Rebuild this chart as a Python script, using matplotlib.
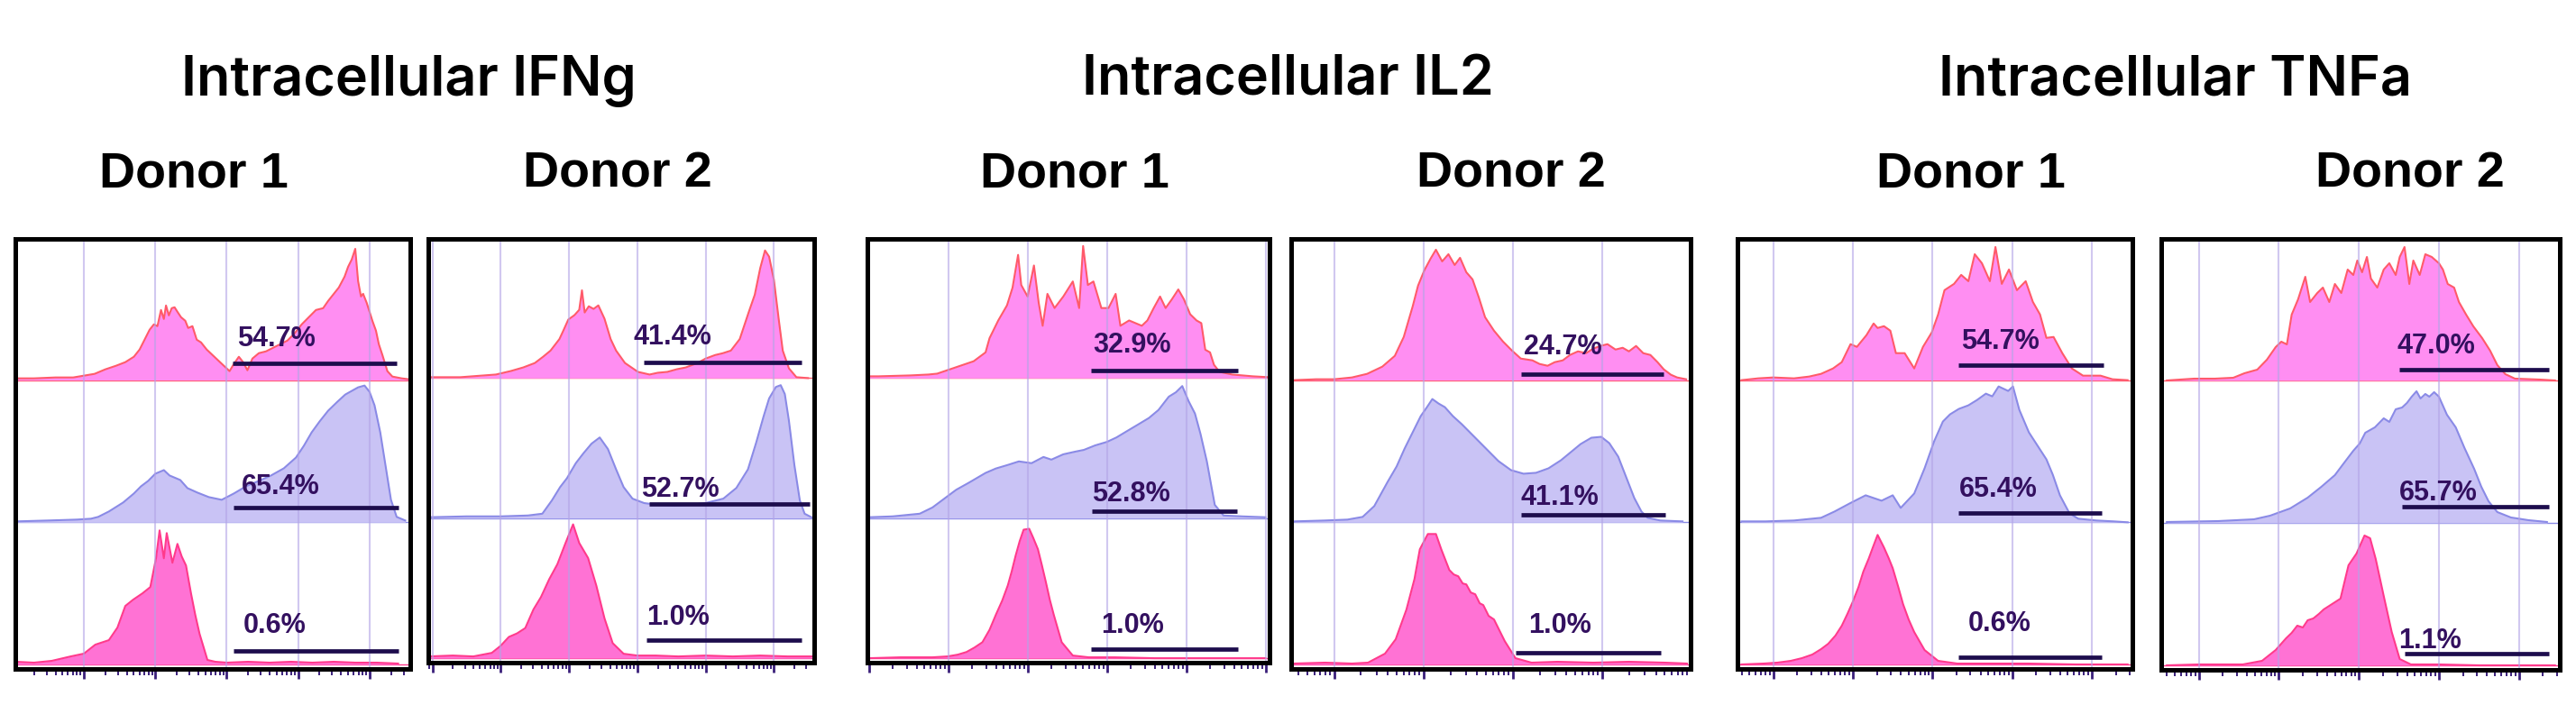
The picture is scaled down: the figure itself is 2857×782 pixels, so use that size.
"""
Intracellular cytokine staining histograms (IFNg / IL2 / TNFa, two donors).
"""

import numpy as np
import matplotlib
matplotlib.use("Agg")
import matplotlib.pyplot as plt

# ---------------------------------------------------------------------------
# Data: x in log-decades of fluorescence, y in event counts (arbitrary units)
# top = pink stimulated, mid = lavender, bot = control
# ---------------------------------------------------------------------------
cytokines = ["IFNg", "IL2", "TNFa"]
donors = ["Donor 1", "Donor 2"]

# IFNg, donor 1
ifng_d1_top_x = [0.05, 0.3, 0.6, 0.85, 1.0, 1.15, 1.3, 1.45, 1.58, 1.7, 1.78, 1.85, 1.92, 1.98, 2.03,
                 2.08, 2.12, 2.15, 2.19, 2.23, 2.27, 2.31, 2.36, 2.42, 2.46, 2.52, 2.58, 2.64, 2.72, 2.8,
                 2.88, 2.96, 3.04, 3.1, 3.17, 3.23, 3.29, 3.36, 3.45, 3.55, 3.65, 3.75, 3.85, 3.95, 4.05,
                 4.15, 4.25, 4.35, 4.42, 4.5, 4.57, 4.65, 4.7, 4.75, 4.8, 4.84, 4.88, 4.91, 4.96, 5.04,
                 5.09, 5.13, 5.18, 5.25, 5.32, 5.45, 5.55]
ifng_d1_top_y = [2, 2, 3, 3, 5, 7, 12, 16, 20, 26, 34, 45, 56, 62, 60, 78, 68, 83, 72, 80, 81, 76, 70, 66,
                 58, 60, 45, 42, 34, 28, 22, 16, 10, 18, 26, 20, 11, 24, 30, 32, 36, 40, 44, 52, 62, 70,
                 78, 80, 88, 96, 103, 115, 126, 134, 146, 110, 93, 96, 86, 66, 55, 40, 28, 10, 4, 2, 1]
ifng_d1_mid_x = [0.05, 0.5, 0.9, 1.1, 1.2, 1.35, 1.55, 1.7, 1.8, 1.9, 2.0, 2.12, 2.2, 2.35, 2.45, 2.59,
                 2.75, 2.93, 3.1, 3.27, 3.45, 3.62, 3.8, 3.97, 4.08, 4.19, 4.3, 4.42, 4.55, 4.66, 4.75,
                 4.84, 4.93, 5.0, 5.07, 5.15, 5.23, 5.3, 5.38, 5.5]
ifng_d1_mid_y = [1, 2, 3, 4, 6, 12, 22, 32, 40, 46, 54, 58, 52, 47, 38, 33, 28, 25, 32, 40, 46, 52, 60,
                 72, 85, 100, 112, 124, 134, 142, 146, 150, 152, 145, 130, 100, 60, 25, 6, 2]
ifng_d1_bot_x = [0.05, 0.3, 0.55, 0.82, 1.0, 1.16, 1.35, 1.47, 1.58, 1.69, 1.82, 1.93, 2.01, 2.06, 2.12,
                 2.16, 2.24, 2.31, 2.37, 2.43, 2.5, 2.56, 2.62, 2.73, 2.84, 3.0, 3.3, 3.6, 3.9, 4.2, 4.5,
                 4.8, 5.1, 5.4]
ifng_d1_bot_y = [3, 2, 4, 9, 12, 22, 27, 41, 65, 72, 79, 86, 118, 149, 118, 146, 113, 134, 120, 110, 79,
                 55, 34, 5, 3, 2, 3, 2, 3, 2, 3, 2, 2, 1]
ifng_d1_pct = ["54.7%", "65.4%", "0.6%"]

# IFNg, donor 2
ifng_d2_top_x = [-0.05, 0.41, 0.93, 1.15, 1.33, 1.5, 1.62, 1.73, 1.86, 1.92, 1.99, 2.08, 2.15, 2.19, 2.23,
                 2.29, 2.36, 2.43, 2.52, 2.61, 2.69, 2.82, 3.01, 3.18, 3.3, 3.44, 3.58, 3.71, 3.88, 4.0,
                 4.14, 4.25, 4.37, 4.5, 4.63, 4.72, 4.8, 4.87, 4.93, 5.0, 5.07, 5.13, 5.22, 5.33, 5.5]
ifng_d2_top_y = [1, 1, 4, 8, 12, 17, 24, 31, 44, 54, 66, 71, 77, 99, 74, 81, 78, 82, 67, 44, 31, 17, 7, 4,
                 6, 7, 10, 12, 17, 22, 26, 28, 31, 44, 74, 94, 124, 144, 137, 111, 67, 31, 11, 1, 0]
ifng_d2_mid_x = [-0.05, 0.5, 1.0, 1.4, 1.61, 1.75, 1.87, 1.97, 2.1, 2.21, 2.33, 2.45, 2.57, 2.69, 2.8,
                 2.93, 3.1, 3.3, 3.55, 3.77, 4.0, 4.26, 4.45, 4.62, 4.74, 4.85, 4.93, 5.03, 5.1, 5.16,
                 5.22, 5.3, 5.38, 5.45, 5.55]
ifng_d2_mid_y = [1, 2, 2, 3, 5, 20, 35, 45, 62, 73, 84, 91, 78, 55, 35, 22, 17, 15, 14, 15, 17, 22, 34,
                 55, 85, 115, 135, 148, 150, 140, 110, 60, 20, 5, 1]
ifng_d2_bot_x = [-0.05, 0.3, 0.6, 0.87, 1.0, 1.12, 1.24, 1.36, 1.48, 1.59, 1.71, 1.83, 1.95, 2.06, 2.15,
                 2.28, 2.4, 2.52, 2.64, 2.8, 3.0, 3.27, 3.6, 4.0, 4.4, 4.8, 5.2, 5.55]
ifng_d2_bot_y = [2, 3, 2, 6, 14, 24, 28, 34, 55, 69, 89, 106, 130, 151, 130, 113, 82, 45, 17, 5, 3, 3, 2,
                 3, 2, 3, 2, 2]
ifng_d2_pct = ["41.4%", "52.7%", "1.0%"]

# IL2, donor 1
il2_d1_top_x = [0.0, 0.12, 0.52, 0.75, 0.86, 1.09, 1.32, 1.47, 1.52, 1.63, 1.74, 1.81, 1.88, 1.92, 2.0,
                2.08, 2.14, 2.19, 2.25, 2.34, 2.45, 2.57, 2.65, 2.7, 2.76, 2.83, 2.93, 3.02, 3.11, 3.17,
                3.28, 3.44, 3.51, 3.59, 3.67, 3.74, 3.82, 3.9, 3.97, 4.05, 4.13, 4.19, 4.24, 4.3, 4.35,
                4.42, 4.58, 4.84, 5.04]
il2_d1_top_y = [2, 2, 3, 4, 5, 12, 19, 29, 45, 65, 82, 102, 139, 105, 92, 127, 85, 59, 95, 79, 92, 109,
                79, 149, 105, 109, 79, 79, 95, 59, 65, 59, 65, 79, 92, 79, 89, 100, 89, 72, 65, 62, 32,
                29, 15, 7, 4, 2, 1]
il2_d1_mid_x = [0.0, 0.3, 0.64, 0.8, 0.95, 1.1, 1.26, 1.47, 1.6, 1.75, 1.89, 2.05, 2.2, 2.3, 2.45, 2.6,
                2.71, 2.85, 3.0, 3.12, 3.25, 3.4, 3.53, 3.65, 3.78, 3.87, 3.95, 4.03, 4.11, 4.18, 4.26,
                4.36, 4.47, 4.7, 5.0]
il2_d1_mid_y = [1, 2, 5, 12, 22, 32, 40, 51, 56, 60, 64, 62, 69, 66, 72, 75, 77, 82, 86, 91, 98, 106,
                113, 122, 137, 142, 149, 132, 118, 95, 64, 15, 3, 2, 1]
il2_d1_bot_x = [0.0, 0.4, 0.8, 0.99, 1.12, 1.23, 1.33, 1.43, 1.52, 1.6, 1.68, 1.75, 1.8, 1.85, 1.9, 1.95,
                2.02, 2.07, 2.13, 2.18, 2.23, 2.28, 2.33, 2.43, 2.57, 2.77, 3.1, 3.6, 4.2, 5.0]
il2_d1_bot_y = [0, 1, 1, 2, 4, 7, 12, 18, 32, 49, 65, 82, 98, 116, 132, 145, 146, 136, 123, 105, 86, 66,
                49, 18, 3, 1, 1, 0, 0, 0]
il2_d1_pct = ["32.9%", "52.8%", "1.0%"]

# IL2, donor 2
il2_d2_top_x = [0.55, 0.8, 1.0, 1.2, 1.37, 1.54, 1.68, 1.78, 1.88, 1.94, 2.01, 2.08, 2.14, 2.21, 2.28,
                2.35, 2.41, 2.48, 2.55, 2.62, 2.69, 2.79, 2.89, 2.99, 3.09, 3.22, 3.3, 3.39, 3.47, 3.56,
                3.64, 3.73, 3.82, 3.9, 3.98, 4.06, 4.15, 4.23, 4.3, 4.38, 4.46, 4.54, 4.62, 4.69, 4.77,
                4.84, 4.94]
il2_d2_top_y = [0, 1, 1, 3, 7, 15, 27, 48, 82, 105, 122, 135, 145, 132, 140, 128, 136, 120, 112, 92, 70,
                55, 43, 33, 24, 22, 18, 16, 20, 22, 28, 32, 30, 35, 38, 40, 34, 36, 32, 38, 30, 28, 20,
                12, 6, 3, 1]
il2_d2_mid_x = [0.55, 0.9, 1.15, 1.32, 1.45, 1.6, 1.7, 1.79, 1.88, 1.97, 2.04, 2.1, 2.17, 2.24, 2.33,
                2.43, 2.56, 2.7, 2.84, 2.98, 3.12, 3.26, 3.4, 3.54, 3.65, 3.76, 3.88, 3.99, 4.08, 4.18,
                4.27, 4.36, 4.44, 4.51, 4.65, 4.9]
il2_d2_mid_y = [1, 2, 3, 6, 18, 45, 62, 82, 100, 118, 128, 137, 132, 128, 118, 109, 96, 82, 68, 58, 54,
                55, 60, 69, 78, 87, 94, 95, 88, 73, 50, 27, 12, 5, 2, 1]
il2_d2_bot_x = [0.55, 0.9, 1.2, 1.38, 1.57, 1.69, 1.81, 1.9, 1.96, 2.05, 2.14, 2.2, 2.29, 2.34, 2.39,
                2.44, 2.48, 2.53, 2.58, 2.63, 2.67, 2.73, 2.79, 2.85, 2.91, 3.03, 3.21, 3.5, 3.9, 4.3,
                4.7, 4.95]
il2_d2_bot_y = [1, 2, 1, 2, 12, 28, 61, 95, 128, 145, 145, 128, 105, 100, 98, 90, 89, 80, 78, 68, 66,
                54, 50, 38, 26, 7, 2, 3, 2, 3, 2, 1]
il2_d2_pct = ["24.7%", "41.1%", "1.0%"]

# TNFa, donor 1
tnfa_d1_top_x = [0.6, 0.81, 1.0, 1.26, 1.45, 1.6, 1.75, 1.86, 1.97, 2.05, 2.17, 2.26, 2.31, 2.39, 2.47,
                 2.54, 2.65, 2.77, 2.88, 2.99, 3.07, 3.15, 3.27, 3.36, 3.45, 3.53, 3.62, 3.72, 3.79, 3.87,
                 3.96, 4.06, 4.17, 4.26, 4.35, 4.43, 4.52, 4.63, 4.75, 4.89, 5.11, 5.26, 5.45]
tnfa_d1_top_y = [0, 2, 3, 2, 4, 7, 13, 20, 40, 37, 50, 63, 58, 60, 55, 30, 30, 13, 37, 53, 73, 100, 107,
                 117, 110, 140, 130, 110, 148, 107, 123, 100, 110, 87, 73, 47, 48, 30, 13, 5, 5, 1, 0]
tnfa_d1_mid_x = [0.6, 0.9, 1.26, 1.6, 1.77, 1.96, 2.16, 2.36, 2.5, 2.6, 2.77, 2.9, 3.02, 3.13, 3.22,
                 3.33, 3.45, 3.56, 3.67, 3.75, 3.83, 3.95, 4.01, 4.09, 4.21, 4.32, 4.43, 4.51, 4.6, 4.72,
                 4.83, 5.06, 5.28, 5.45]
tnfa_d1_mid_y = [1, 1, 2, 5, 12, 21, 30, 24, 30, 16, 32, 60, 90, 112, 120, 126, 130, 136, 143, 140, 151,
                 146, 151, 125, 100, 85, 70, 53, 30, 10, 4, 2, 1, 0]
tnfa_d1_bot_x = [0.6, 0.88, 1.05, 1.22, 1.36, 1.49, 1.6, 1.69, 1.78, 1.86, 1.93, 2.0, 2.07, 2.13, 2.2,
                 2.25, 2.31, 2.39, 2.45, 2.5, 2.57, 2.63, 2.7, 2.77, 2.9, 3.07, 3.31, 3.7, 4.2, 4.8, 5.45]
tnfa_d1_bot_y = [0, 1, 2, 4, 7, 11, 17, 23, 32, 43, 56, 70, 86, 103, 118, 130, 144, 130, 118, 107, 86,
                 67, 50, 36, 16, 4, 1, 1, 1, 0, 0]
tnfa_d1_pct = ["54.7%", "65.4%", "0.6%"]

# TNFa, donor 2
tnfa_d2_top_x = [0.6, 0.94, 1.2, 1.43, 1.57, 1.73, 1.85, 1.96, 2.03, 2.1, 2.16, 2.24, 2.33, 2.39, 2.48,
                 2.55, 2.63, 2.7, 2.78, 2.86, 2.93, 2.98, 3.04, 3.1, 3.15, 3.23, 3.31, 3.38, 3.46, 3.51,
                 3.57, 3.63, 3.68, 3.76, 3.83, 3.91, 4.0, 4.05, 4.11, 4.19, 4.25, 4.34, 4.43, 4.54, 4.64,
                 4.73, 4.83, 4.95, 5.26, 5.45]
tnfa_d2_top_y = [0, 2, 2, 3, 8, 12, 23, 37, 43, 40, 73, 90, 115, 87, 97, 103, 87, 107, 97, 123, 117, 133,
                 120, 137, 113, 103, 123, 130, 117, 137, 148, 107, 133, 117, 140, 137, 130, 123, 107, 103,
                 87, 73, 60, 47, 33, 17, 7, 2, 1, 0]
tnfa_d2_mid_x = [0.6, 1.24, 1.69, 1.89, 2.14, 2.36, 2.53, 2.7, 2.81, 2.93, 3.01, 3.08, 3.2, 3.31, 3.38,
                 3.46, 3.54, 3.6, 3.66, 3.72, 3.77, 3.83, 3.88, 3.94, 4.0, 4.1, 4.21, 4.32, 4.44, 4.53,
                 4.62, 4.73, 4.9, 5.12, 5.35]
tnfa_d2_mid_y = [1, 2, 4, 8, 16, 28, 40, 53, 66, 80, 88, 100, 106, 116, 112, 126, 128, 133, 140, 146, 138,
                 143, 140, 145, 140, 120, 106, 83, 60, 40, 24, 12, 6, 3, 1]
tnfa_d2_bot_x = [0.6, 1.0, 1.3, 1.55, 1.79, 1.96, 2.09, 2.16, 2.23, 2.3, 2.36, 2.43, 2.5, 2.56, 2.63,
                 2.7, 2.77, 2.87, 2.97, 3.07, 3.14, 3.21, 3.31, 3.41, 3.51, 3.65, 4.0, 4.5, 5.0, 5.45]
tnfa_d2_bot_y = [0, 1, 1, 1, 5, 17, 30, 36, 44, 42, 50, 52, 57, 62, 66, 70, 74, 111, 124, 144, 141, 118,
                 77, 37, 7, 1, 1, 0, 0, 0]
tnfa_d2_pct = ["47.0%", "65.7%", "1.1%"]

# gate ranges (decades) per panel and row: (start, end)
ifng_d1_gates = [(3.08, 5.38), (3.10, 5.40), (3.10, 5.40)]
ifng_d2_gates = [(3.09, 5.40), (3.18, 5.53), (3.14, 5.40)]
il2_d1_gates = [(2.80, 4.65), (2.81, 4.64), (2.80, 4.65)]
il2_d2_gates = [(3.09, 4.69), (3.09, 4.71), (3.03, 4.66)]
tnfa_d1_gates = [(3.33, 5.15), (3.33, 5.13), (3.33, 5.13)]
tnfa_d2_gates = [(3.51, 5.37), (3.54, 5.37), (3.57, 5.37)]

# ---------------------------------------------------------------------------
# Layout (pixels of the 2857 x 782 canvas) and styles
# ---------------------------------------------------------------------------
W, H = 2857, 782
ROW_BASE = [316, 158, 0]           # baseline of top / mid / bottom histogram
ROW_Z = [5, 3, 2]                  # top row is drawn over the middle one
YLIM = (-5, 473)

PANEL_BOX = [(17, 265, 455, 742), (475, 265, 903, 735),
             (962, 265, 1408, 735), (1432, 265, 1875, 742),
             (1927, 265, 2365, 742), (2397, 265, 2839, 743)]
PANEL_XLIM = [(0.04, 5.57), (-0.06, 5.59), (-0.02, 5.05),
              (0.52, 4.99), (0.55, 5.51), (0.53, 5.51)]
# (bar height, label x, label height) for each row
GATE_STYLE = [
    [(19, 3.15, 46), (16, 3.21, 39), (15, 3.23, 43)],
    [(18, 2.94, 46), (16, 3.06, 32), (20, 3.14, 46)],
    [(9, 2.82, 37), (8, 2.81, 27), (10, 2.93, 37)],
    [(7, 3.12, 37), (8, 3.09, 27), (13, 3.18, 43)],
    [(17, 3.36, 43), (10, 3.33, 36), (8, 3.45, 45)],
    [(12, 3.48, 38), (18, 3.50, 33), (13, 3.50, 27)],
]

ROW_FILL = ["#ff8ef2", "#c9c3f5", "#ff72d4"]
ROW_EDGE = ["#ff5a6a", "#8a8ae6", "#ff3a8c"]
GRID_COLOR = "#b3a4e6"
GATE_COLOR = "#1d0d4d"
LABEL_COLOR = "#33105f"

TITLE_X = [453, 1428, 2412]
TITLE_Y = 106
DONOR_X = [215, 685, 1192, 1676, 2186, 2673]
DONOR_Y = 207


def _panel_series():
    """Collect the per-panel series in drawing order."""
    return [
        ([(ifng_d1_top_x, ifng_d1_top_y), (ifng_d1_mid_x, ifng_d1_mid_y), (ifng_d1_bot_x, ifng_d1_bot_y)],
         ifng_d1_pct, ifng_d1_gates),
        ([(ifng_d2_top_x, ifng_d2_top_y), (ifng_d2_mid_x, ifng_d2_mid_y), (ifng_d2_bot_x, ifng_d2_bot_y)],
         ifng_d2_pct, ifng_d2_gates),
        ([(il2_d1_top_x, il2_d1_top_y), (il2_d1_mid_x, il2_d1_mid_y), (il2_d1_bot_x, il2_d1_bot_y)],
         il2_d1_pct, il2_d1_gates),
        ([(il2_d2_top_x, il2_d2_top_y), (il2_d2_mid_x, il2_d2_mid_y), (il2_d2_bot_x, il2_d2_bot_y)],
         il2_d2_pct, il2_d2_gates),
        ([(tnfa_d1_top_x, tnfa_d1_top_y), (tnfa_d1_mid_x, tnfa_d1_mid_y), (tnfa_d1_bot_x, tnfa_d1_bot_y)],
         tnfa_d1_pct, tnfa_d1_gates),
        ([(tnfa_d2_top_x, tnfa_d2_top_y), (tnfa_d2_mid_x, tnfa_d2_mid_y), (tnfa_d2_bot_x, tnfa_d2_bot_y)],
         tnfa_d2_pct, tnfa_d2_gates),
    ]


def _add_axes(fig, box):
    left, top, right, bottom = box
    return fig.add_axes([left / W, 1 - bottom / H, (right - left) / W, (bottom - top) / H])


def _plot_panel(ax, series, pcts, gates, xlim, gate_style):
    """Three stacked histograms with gate bars and percentages."""
    x0, x1 = xlim

    for row, (xs, ys) in enumerate(series):
        base = ROW_BASE[row]
        xs = np.asarray(xs, dtype=float)
        ys = np.asarray(ys, dtype=float) + base
        z = ROW_Z[row]
        ax.hlines(base, x0, x1, color=ROW_EDGE[row], linewidth=1.0, zorder=z)
        ax.fill_between(xs, base, ys, color=ROW_FILL[row], linewidth=0, zorder=z)
        ax.plot(xs, ys, color=ROW_EDGE[row], linewidth=1.5, zorder=z + 0.1)

    # decade grid lines, drawn over the fills
    for d in range(int(np.ceil(x0)), int(np.floor(x1)) + 1):
        ax.axvline(d, color=GRID_COLOR, linewidth=1.5, alpha=0.6, zorder=6)

    for row in range(3):
        base = ROW_BASE[row]
        g0, g1 = gates[row]
        bar_h, lab_x, lab_h = gate_style[row]
        ax.hlines(base + bar_h, g0, g1, color=GATE_COLOR, linewidth=3.4, zorder=7)
        ax.text(lab_x, base + lab_h, pcts[row], ha="left", va="center",
                fontsize=22, fontweight="bold", color=LABEL_COLOR,
                family=["Liberation Sans", "DejaVu Sans"], zorder=8)

    ax.set_xlim(x0, x1)
    ax.set_ylim(*YLIM)
    ax.set_facecolor("white")

    majors = [d for d in range(-1, 7) if x0 <= d <= x1]
    minors = [d + np.log10(k) for d in range(-1, 6) for k in range(2, 10)
              if x0 <= d + np.log10(k) <= x1]
    ax.set_xticks(majors)
    ax.set_xticks(minors, minor=True)
    ax.set_yticks([])
    ax.tick_params(axis="x", which="both", direction="out", colors="#3a1f7a",
                   labelbottom=False)
    ax.tick_params(axis="x", which="major", length=8, width=2.0)
    ax.tick_params(axis="x", which="minor", length=5, width=1.4)
    for spine in ax.spines.values():
        spine.set_color("black")
        spine.set_linewidth(3.6)
        spine.set_zorder(10)


def create_figure(filename):
    fig = plt.figure(figsize=(W / 100, H / 100), dpi=100)
    fig.patch.set_facecolor("white")

    for i, (series, pcts, gates) in enumerate(_panel_series()):
        ax = _add_axes(fig, PANEL_BOX[i])
        _plot_panel(ax, series, pcts, gates, PANEL_XLIM[i], GATE_STYLE[i])

    for name, cx in zip(cytokines, TITLE_X):
        fig.text(cx / W, 1 - TITLE_Y / H, f"Intracellular {name}", ha="center", va="baseline",
                 fontsize=44, fontweight="semibold", family=["Inter", "DejaVu Sans"], color="black")

    for i, cx in enumerate(DONOR_X):
        fig.text(cx / W, 1 - DONOR_Y / H, donors[i % 2], ha="center", va="baseline",
                 fontsize=40, fontweight="bold", family=["Liberation Sans", "DejaVu Sans"],
                 color="black")

    fig.savefig(filename, dpi=100)
    plt.close(fig)


if __name__ == "__main__":
    create_figure("out.png")
